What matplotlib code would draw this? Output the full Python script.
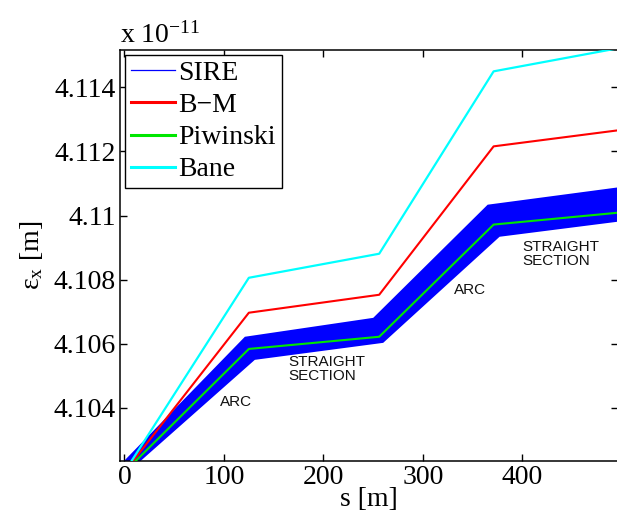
import matplotlib
matplotlib.use("Agg")
import matplotlib.pyplot as plt
from matplotlib.lines import Line2D
from matplotlib.ticker import FuncFormatter

plt.rcParams["font.family"] = ["Liberation Serif", "DejaVu Serif"]
plt.rcParams["mathtext.fontset"] = "custom"
plt.rcParams["mathtext.rm"] = "Liberation Serif"
plt.rcParams["mathtext.it"] = "Liberation Serif:italic"

# Emittance along the lattice, in units of 1e-11 m
s_knots = [0, 125, 256, 371, 496]
bm = [4.1020, 4.10697, 4.10753, 4.11216, 4.11266]
piwinski = [4.1020, 4.10584, 4.10622, 4.10972, 4.11009]
bane = [4.1020, 4.10806, 4.10881, 4.11450, 4.11522]

# SIRE tracking result: spread envelope of the turn-by-turn values
sire_s_hi = [0, 121, 250, 365, 496]
sire_hi = [4.10236, 4.10622, 4.10681, 4.11034, 4.11088]
sire_s_lo = [0, 131, 260, 377, 496]
sire_lo = [4.1019, 4.10550, 4.10603, 4.10934, 4.10981]

x_ticks = [0, 100, 200, 300, 400]
y_ticks = [4.104, 4.106, 4.108, 4.110, 4.112, 4.114]

fig = plt.figure(figsize=(6.17, 5.23), dpi=100)
ax = fig.add_axes([120 / 617, 62 / 523, 498 / 617, 411 / 523])

ax.fill(list(sire_s_hi) + list(sire_s_lo[::-1]),
        list(sire_hi) + list(sire_lo[::-1]),
        color="#0000ff", lw=0, zorder=2)
ax.plot(s_knots, bm, color="#ff0000", lw=1.5, zorder=3)
ax.plot(s_knots, piwinski, color="#00e600", lw=1.5, zorder=4)
ax.plot(s_knots, bane, color="#00ffff", lw=1.6, zorder=3)

ax.set_xlim(-4.5, 496)
ax.set_ylim(4.102344, 4.115166)
ax.set_xticks(x_ticks)
ax.set_yticks(y_ticks)
ax.yaxis.set_major_formatter(FuncFormatter(lambda v, p: f"{v:g}"))
ax.tick_params(direction="in", length=5, width=1.0, labelsize=20,
               top=True, right=True, pad=3)
for sp in ax.spines.values():
    sp.set_linewidth(1.1)

ax.set_xlabel("s [m]", fontsize=20, labelpad=-2)
ax.set_ylabel(r"$\mathregular{\varepsilon_x}$ [m]", fontsize=20, labelpad=6)
fig.text(120 / 617, 1 - 43 / 523, r"x 10$^{-11}$", fontsize=20,
         ha="left", va="baseline")

note = dict(fontsize=11, family="Liberation Sans", color="#111111",
            zorder=5)
ax.text(112, 4.10417, "ARC", ha="center", va="center", **note)
ax.text(347, 4.10769, "ARC", ha="center", va="center", **note)
ax.text(165, 4.10566, "STRAIGHT\nSECTION", ha="left", va="top",
        linespacing=1.05, **note)
ax.text(400, 4.10925, "STRAIGHT\nSECTION", ha="left", va="top",
        linespacing=1.05, **note)

handles = [
    Line2D([], [], color="#0000ff", lw=0.9),
    Line2D([], [], color="#ff0000", lw=2.2),
    Line2D([], [], color="#00e600", lw=2.2),
    Line2D([], [], color="#00ffff", lw=2.2),
]
leg = ax.legend(handles, ["SIRE", "B\u2212M", "Piwinski", "Bane"],
                loc="upper left", fontsize=20, handlelength=1.6,
                handletextpad=0.12, labelspacing=0.24, borderpad=0.2,
                borderaxespad=0.18, fancybox=False, framealpha=1,
                edgecolor="black")
leg.get_frame().set_linewidth(1.0)

fig.savefig("out.png", dpi=100)
